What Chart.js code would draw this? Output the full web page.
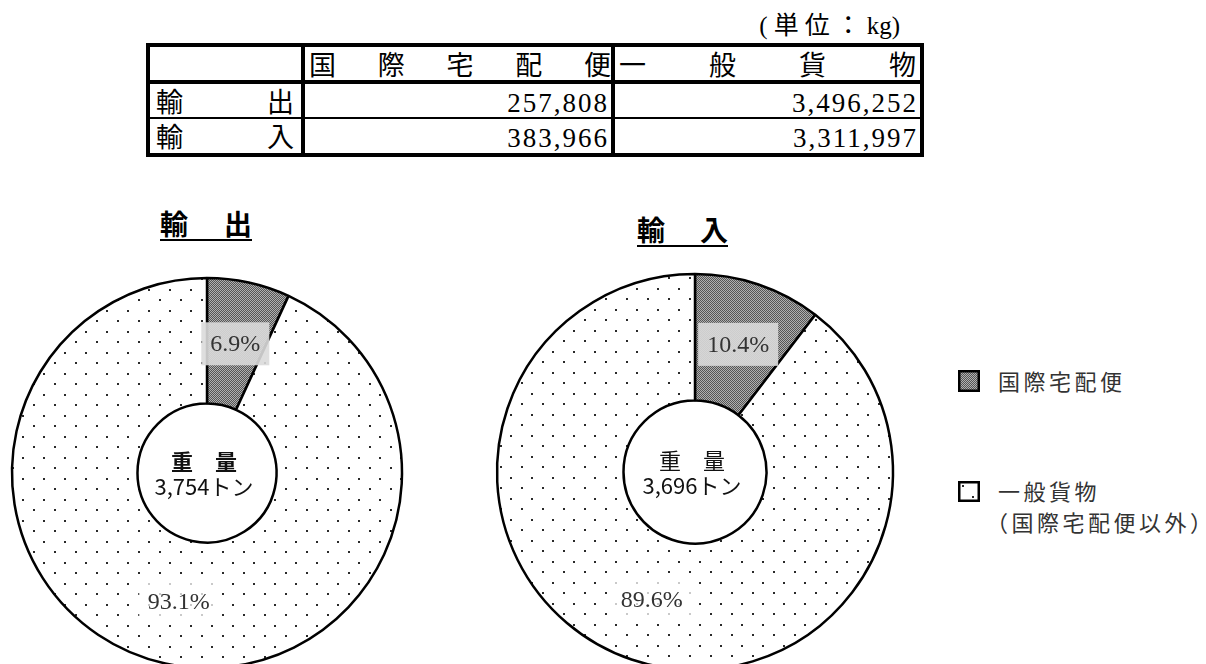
<!DOCTYPE html>
<html lang="ja">
<head>
<meta charset="utf-8">
<script src="https://cdn.jsdelivr.net/npm/chart.js@4.4.1/dist/chart.umd.min.js"></script>
<style>
  html, body { margin: 0; padding: 0; background: #fff; }
  body { width: 1206px; height: 664px; position: relative; overflow: hidden;
         font-family: "Noto Sans CJK JP", sans-serif; color: #000; }
  .unit { position: absolute; left: 700px; top: 13px; width: 200px; text-align: right;
          font: 25px/25px "Liberation Serif", "Noto Sans CJK JP"; }
  .unit .cjk { letter-spacing: 6px; }
  table.data { position: absolute; left: 146px; top: 43px; border: 4px solid #000;
               border-spacing: 0; table-layout: fixed; }
  table.data td { padding: 0; vertical-align: top; }
  .cell { position: relative; top: 3px; display: flex; justify-content: space-between;
          font: 27px/33px "Liberation Serif", "Noto Sans CJK JP"; white-space: nowrap; }
  .num { justify-content: flex-end; padding-right: 2px; letter-spacing: 2px; }
  .title { position: absolute; display: flex; justify-content: space-between;
           font: bold 28px/28px "Noto Sans CJK JP"; padding-bottom: 2px; border-bottom: 2px solid #000; }
  canvas.donut { position: absolute; }
  .legend { position: absolute; font: 22px/22px "Noto Sans CJK JP"; letter-spacing: 3.5px; color: #333; white-space: nowrap; }
  canvas.swatch { position: absolute; }
</style>
</head>
<body>
<div class="unit" id="unit"></div>
<table class="data" id="table"></table>
<div class="title" id="title0" style="left:160px; top:209px; width:92px;"></div>
<div class="title" id="title1" style="left:637px; top:215px; width:91px;"></div>
<canvas class="donut" id="exportChart" width="440" height="440" style="left:-13px; top:253px;"></canvas>
<canvas class="donut" id="importChart" width="440" height="440" style="left:475px; top:252px;"></canvas>
<canvas class="swatch" id="sw0" width="22" height="22" style="left:958px; top:370px;"></canvas>
<canvas class="swatch" id="sw1" width="22" height="21" style="left:958px; top:481px;"></canvas>
<div class="legend" id="lg0" style="left:998px; top:369px;"></div>
<div class="legend" id="lg1" style="left:998px; top:479px;"></div>
<div class="legend" id="lg2" style="left:986px; top:510px;"></div>
<script>
// values (kg)
const categories = ["国際宅配便", "一般貨物"];
const rowLabels = ["輸出", "輸入"];
const exportKg = [257808, 3496252];
const importKg = [383966, 3311997];
const unitCjk = "(単位：";
const unitLatin = "kg)";
const centerCaption = "重　量";
const legendNote = "（国際宅配便以外）";

// fill patterns
function makeHatch() {
  const c = document.createElement("canvas");
  c.width = 2; c.height = 2;
  const x = c.getContext("2d");
  x.fillStyle = "#555"; x.fillRect(0, 0, 2, 2);
  x.fillStyle = "#b0b0b0"; x.fillRect(0, 0, 1, 1); x.fillRect(1, 1, 1, 1);
  return x.createPattern(c, "repeat");
}
function makeDots() {
  const c = document.createElement("canvas");
  c.width = 21; c.height = 21;
  const x = c.getContext("2d");
  x.fillStyle = "#fff"; x.fillRect(0, 0, 21, 21);
  x.fillStyle = "#2a2a2a";
  x.fillRect(4, 4, 2, 2);
  x.fillRect(14, 15, 2, 2);
  return x.createPattern(c, "repeat");
}
const hatch = makeHatch();
const dots = makeDots();

// table
document.getElementById("unit").innerHTML =
  '<span class="cjk">' + unitCjk + "</span>" + unitLatin;
const fmt = (v) => v.toLocaleString("en-US");
function spread(text) {
  return text.split("").map((ch) => "<span>" + ch + "</span>").join("");
}
const table = document.getElementById("table");
const colW = [151, 306, 305];
const rowH = [33, 33, 34];
let html = "<tr>";
html += '<td style="width:' + colW[0] + "px;height:" + rowH[0] + 'px;border-right:4px solid #000;border-bottom:4px solid #000"></td>';
categories.forEach((c, i) => {
  const br = i === 0 ? "border-right:4px solid #000;" : "";
  const pad = i === 0 ? "padding:0 0 0 4px" : "padding:0 4px";
  html += '<td style="width:' + colW[i + 1] + "px;" + br + 'border-bottom:4px solid #000"><div class="cell" style="' + pad + '">' + spread(c) + "</div></td>";
});
html += "</tr>";
[exportKg, importKg].forEach((vals, r) => {
  const bb = r === 0 ? "border-bottom:2px solid #000;" : "";
  html += "<tr>";
  html += '<td style="height:' + rowH[r + 1] + "px;border-right:4px solid #000;" + bb + '"><div class="cell" style="padding:0 7px 0 6px">' + spread(rowLabels[r]) + "</div></td>";
  vals.forEach((v, i) => {
    const br = i === 0 ? "border-right:4px solid #000;" : "";
    html += '<td style="' + br + bb + '"><div class="cell num">' + fmt(v) + "</div></td>";
  });
  html += "</tr>";
});
table.innerHTML = html;

// titles
rowLabels.forEach((t, i) => {
  document.getElementById("title" + i).innerHTML = spread(t);
});

// legend
document.getElementById("lg0").textContent = categories[0];
document.getElementById("lg1").textContent = categories[1];
document.getElementById("lg2").textContent = legendNote;
[hatch, dots].forEach((p, i) => {
  const cv = document.getElementById("sw" + i);
  const x = cv.getContext("2d");
  x.fillStyle = p;
  x.fillRect(0, 0, cv.width, cv.height);
  x.strokeStyle = "#000";
  x.lineWidth = 2.5;
  x.strokeRect(1.25, 1.25, cv.width - 2.5, cv.height - 2.5);
});

// percentage labels on the slices
const sliceLabels = {
  id: "sliceLabels",
  afterDatasetsDraw(chart) {
    const ctx = chart.ctx;
    const data = chart.data.datasets[0].data;
    const total = data.reduce((a, b) => a + b, 0);
    chart.getDatasetMeta(0).data.forEach((arc, i) => {
      const p = arc.tooltipPosition();
      const txt = ((data[i] / total) * 100).toFixed(1) + "%";
      ctx.save();
      ctx.font = '24px "Liberation Serif"';
      const w = ctx.measureText(txt).width + 18;
      const h = 43;
      ctx.fillStyle = i === 0 ? "rgba(218,218,218,0.9)" : "rgba(255,255,255,0.75)";
      ctx.fillRect(p.x - w / 2, p.y - h / 2, w, h);
      ctx.fillStyle = "#333";
      ctx.textAlign = "center";
      ctx.textBaseline = "middle";
      ctx.fillText(txt, p.x, p.y + 1);
      ctx.restore();
    });
  },
};

// total weight in the hole
const centerText = {
  id: "centerText",
  afterDraw(chart, args, opts) {
    const ctx = chart.ctx;
    const a = chart.chartArea;
    const cx = (a.left + a.right) / 2;
    const cy = (a.top + a.bottom) / 2;
    const data = chart.data.datasets[0].data;
    const tons = Math.round(data.reduce((s, v) => s + v, 0) / 1000);
    ctx.save();
    ctx.fillStyle = "#111";
    ctx.textAlign = "center";
    ctx.textBaseline = "middle";
    ctx.font = (opts.bold ? "bold " : "") + '22px "Noto Sans CJK JP"';
    ctx.fillText(centerCaption, cx - 3, cy - 11);
    ctx.font = '22px "Noto Sans CJK JP"';
    ctx.fillText(fmt(tons) + "トン", cx - 3, cy + 14);
    ctx.restore();
  },
};

function donut(id, values, radius, cutout, bold) {
  return new Chart(document.getElementById(id), {
    type: "doughnut",
    data: {
      labels: categories,
      datasets: [{
        data: values,
        backgroundColor: [hatch, dots],
        borderColor: "#000",
        borderWidth: 2.5,
        hoverOffset: 0,
      }],
    },
    options: {
      responsive: false,
      animation: false,
      events: [],
      radius: radius,
      cutout: cutout,
      plugins: {
        legend: { display: false },
        tooltip: { enabled: false },
        centerText: { bold: bold },
      },
    },
    plugins: [sliceLabels, centerText],
  });
}

donut("exportChart", exportKg, 195, 78, true);
donut("importChart", importKg, 198, 79, false);
</script>
</body>
</html>
